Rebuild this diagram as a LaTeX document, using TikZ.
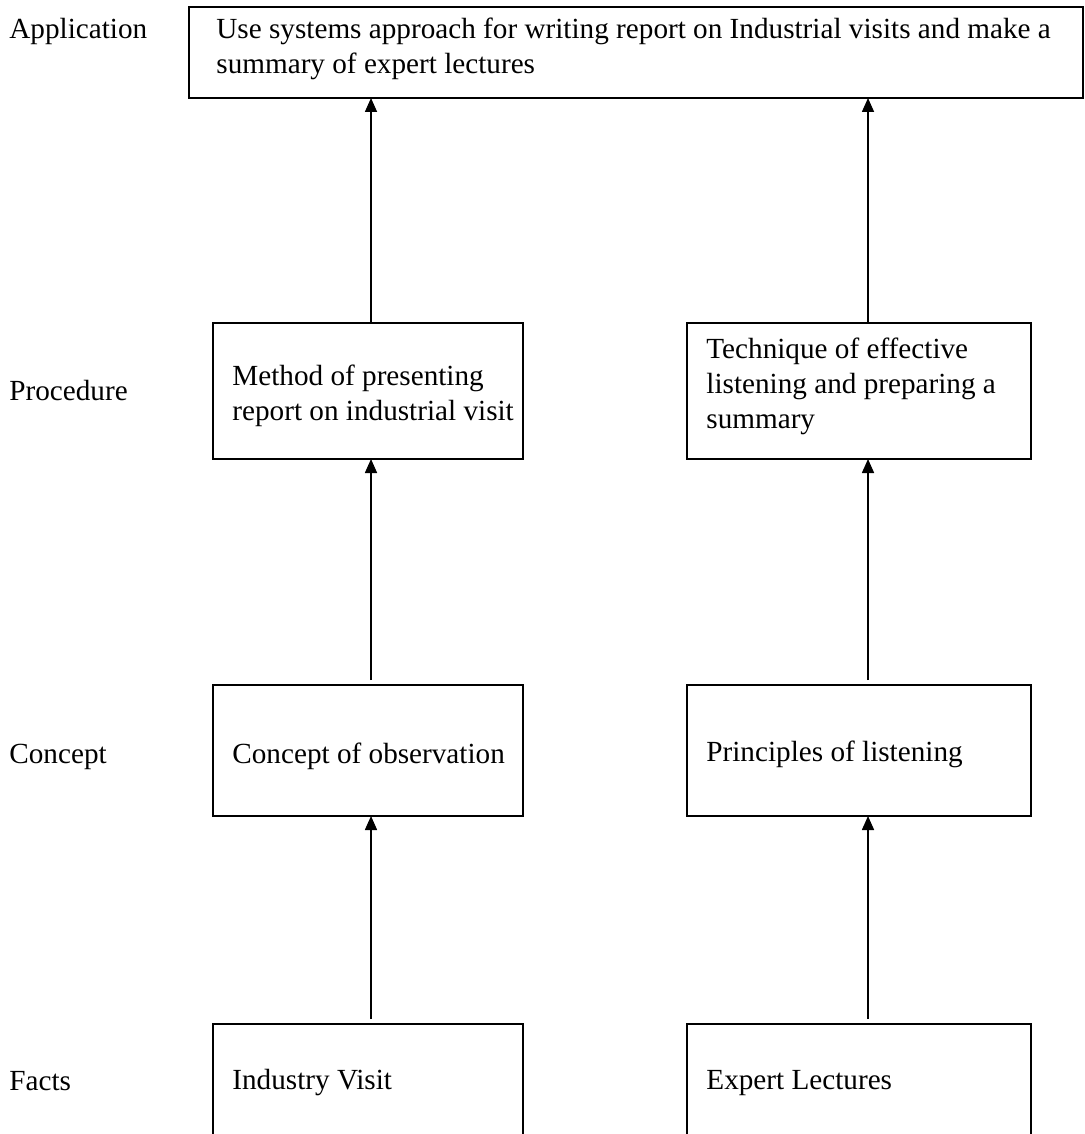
\documentclass[tikz,border=0pt]{standalone}
\usepackage{fontspec}
\setmainfont{Liberation Serif}
\usetikzlibrary{arrows.meta}
\hyphenpenalty=10000
\tikzset{
  box/.style={draw,line width=0.8pt,anchor=north west,inner sep=0pt,outer sep=0pt},
  txt/.style={anchor=base west,align=left,inner sep=0pt},
  up/.style={line width=0.8pt,-{Triangle[length=7pt,width=6pt]}}
}
\begin{document}
\begin{tikzpicture}[x=0.5pt,y=-0.5pt,font=\fontsize{14.6}{17.5}\selectfont]
                \useasboundingbox (0,0) rectangle (1085,1134);
                %% level labels (base of last line given)
                \node[txt] (lapp) at (9,39) {Application};
                \node[txt] (lproc) at (9,400) {Procedure};
                \node[txt] (lcon) at (9,763) {Concept};
                \node[txt] (lfact) at (9,1090) {Facts};
                %% top box
                \node[box,minimum width=447pt,minimum height=45.5pt] (app) at (189,7) {};
                \node[txt] (tapp) at (216,74) {Use systems approach for writing report on Industrial visits and make a\\summary of expert lectures};
                %% left column
                \node[box,minimum width=155pt,minimum height=68pt] (procL) at (213,323) {};
                \node[txt] (tprocL) at (232,420) {Method of presenting\\report on industrial visit};
                \node[box,minimum width=155pt,minimum height=65.5pt] (conL) at (213,685) {};
                \node[txt] (tconL) at (232,763) {Concept of observation};
                \node[box,minimum width=155pt,minimum height=60pt] (factL) at (213,1024) {};
                \node[txt] (tfactL) at (232,1089) {Industry Visit};
                %% right column
                \node[box,minimum width=172pt,minimum height=68pt] (procR) at (687,323) {};
                \node[txt] (tprocR) at (706,428) {Technique of effective\\listening and preparing a\\summary};
                \node[box,minimum width=172pt,minimum height=65.5pt] (conR) at (687,685) {};
                \node[txt] (tconR) at (706,761) {Principles of listening};
                \node[box,minimum width=172pt,minimum height=60pt] (factR) at (687,1024) {};
                \node[txt] (tfactR) at (706,1089) {Expert Lectures};
                %% arrows
                \draw[up,shorten <=2.5pt] (factL.north -| 371,0) -- (conL.south -| 371,0);
                \draw[up,shorten <=2.5pt] (conL.north -| 371,0) -- (procL.south -| 371,0);
                \draw[up] (procL.north -| 371,0) -- (app.south -| 371,0);
                \draw[up,shorten <=2.5pt] (factR.north -| 868,0) -- (conR.south -| 868,0);
                \draw[up,shorten <=2.5pt] (conR.north -| 868,0) -- (procR.south -| 868,0);
                \draw[up] (procR.north -| 868,0) -- (app.south -| 868,0);
            \end{tikzpicture}
\end{document}
